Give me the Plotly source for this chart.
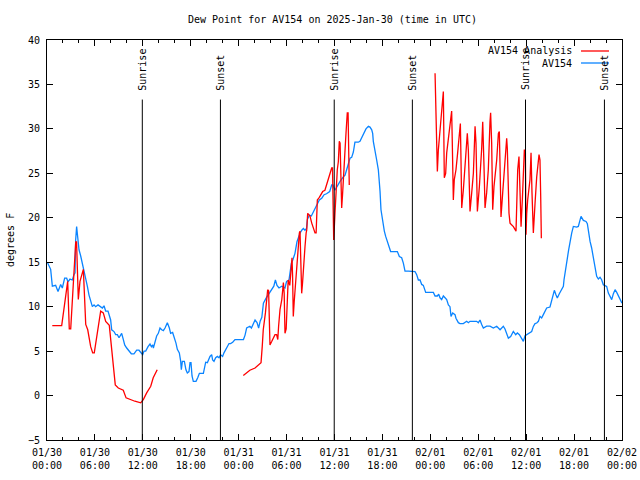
import pandas as pd
import plotly.graph_objects as go

BASE = pd.Timestamp("2025-01-30 00:00")

# --- AV154 observed dew point (hours since 01/30 00:00 UTC, degrees F) ---
obs_hours = [0.04, 0.46, 0.67, 1.08, 1.38, 1.71, 1.92, 2.21, 2.46, 2.63, 2.88, 3.17, 3.38, 3.51, 3.59, 3.71,
             3.80, 3.88, 4.01, 4.22, 4.43, 4.63, 4.84, 5.05, 5.26, 5.47, 5.68, 5.89, 6.09, 6.39, 6.64, 6.93,
             7.14, 7.35, 7.64, 7.76, 7.97, 8.10, 8.39, 8.60, 8.81, 9.02, 9.22, 9.35, 9.56, 9.73, 9.98, 10.27,
             10.56, 10.89, 11.23, 11.52, 11.73, 11.98, 12.15, 12.36, 12.65, 12.90, 13.07, 13.23, 13.32, 13.52,
             13.73, 13.94, 14.15, 14.36, 14.57, 14.78, 14.98, 15.07, 15.32, 15.48, 15.73, 15.90, 16.15, 16.32,
             16.57, 16.74, 16.82, 16.95, 17.20, 17.40, 17.57, 17.78, 17.91, 18.03, 18.16, 18.32, 18.66, 18.87,
             19.08, 19.58, 19.70, 19.87, 20.08, 20.20, 20.41, 20.62, 20.74, 20.91, 21.12, 21.33, 21.54, 21.74,
             21.99, 22.16, 22.41, 22.58, 22.79, 22.99, 23.25, 23.54, 24.60, 24.80, 25.00, 25.40, 25.60, 26.05,
             26.30, 26.50, 26.70, 26.90, 27.10, 27.40, 27.70, 28.10, 28.40, 28.60, 28.80, 29.05, 29.40, 29.80,
             30.00, 30.30, 30.40, 30.60, 30.80, 31.05, 31.30, 31.50, 31.70, 31.90, 32.10, 32.30, 32.50, 32.60,
             32.85, 33.10, 33.35, 33.50, 33.85, 34.10, 34.40, 34.70, 35.00, 35.40, 35.65, 35.80, 36.06, 36.30,
             36.50, 36.69, 37.11, 37.32, 37.52, 37.86, 37.94, 38.15, 38.36, 38.56, 38.98, 39.19, 39.40, 39.70,
             39.94, 40.24, 40.44, 40.66, 40.78, 40.86, 40.99, 41.16, 41.28, 41.49, 41.61, 41.70, 41.82, 41.95,
             42.12, 42.24, 42.41, 42.66, 42.87, 43.03, 43.37, 43.87, 44.12, 44.41, 44.62, 44.83, 45.25, 45.79,
             46.08, 46.29, 46.50, 46.71, 46.92, 47.12, 47.42, 47.96, 48.38, 48.59, 48.88, 49.05, 49.21, 49.42,
             49.63, 49.84, 50.05, 50.26, 50.46, 50.59, 50.80, 51.09, 51.21, 51.51, 51.72, 52.13, 52.55, 52.76,
             52.97, 53.39, 53.80, 54.01, 54.22, 54.43, 54.64, 55.05, 55.47, 55.89, 56.31, 56.73, 57.14, 57.35,
             57.56, 57.77, 58.06, 58.39, 58.69, 58.90, 59.15, 59.31, 59.65, 59.86, 60.27, 60.69, 60.90, 61.11,
             61.32, 61.53, 61.73, 61.94, 62.15, 62.36, 62.57, 62.98, 63.19, 63.40, 63.53, 63.73, 63.90, 64.15,
             64.45, 64.66, 64.74, 64.86, 64.99, 65.16, 65.32, 65.49, 65.70, 65.91, 66.32, 66.53, 66.74, 66.87,
             67.16, 67.49, 67.66, 67.79, 68.00, 68.20, 68.41, 68.62, 68.83, 69.04, 69.25, 69.45, 69.66, 69.87,
             70.08, 70.29, 70.50, 70.71, 70.92, 71.13, 71.34, 71.55, 71.76, 72.00]
obs_dewpt = [15.0, 14.2, 12.3, 12.4, 11.7, 12.5, 12.1, 13.2, 13.2, 12.8, 13.1, 13.0, 13.6, 13.8, 17.5, 19.0,
             18.2, 17.5, 16.4, 15.7, 14.9, 14.0, 13.2, 12.3, 11.3, 10.6, 10.0, 10.2, 10.0, 10.2, 10.0, 9.85,
             10.1, 9.5, 9.5, 9.1, 8.5, 7.4, 7.2, 6.85, 6.85, 6.5, 6.85, 7.0, 6.3, 5.7, 5.35, 5.0,
             4.7, 4.7, 5.1, 5.1, 4.8, 4.6, 5.0, 5.0, 5.5, 5.8, 5.5, 5.7, 5.35, 5.9,
             6.7, 7.0, 7.6, 7.4, 7.3, 7.6, 8.0, 8.2, 7.6, 7.0, 7.1, 6.7, 5.9, 5.2,
             4.8, 3.85, 2.9, 3.85, 3.85, 2.9, 2.55, 2.7, 3.7, 3.7, 2.2, 1.6, 1.6, 2.0,
             2.5, 2.5, 3.1, 3.75, 3.7, 4.0, 4.4, 4.6, 4.0, 3.85, 4.25, 4.4, 4.25, 4.6,
             4.4, 4.8, 5.2, 5.5, 5.85, 5.85, 6.0, 6.3, 6.3, 6.8, 7.6, 7.8, 7.6, 8.5,
             8.2, 7.6, 8.4, 8.8, 10.4, 10.9, 11.35, 11.9, 12.3, 13.0, 12.4, 12.1, 12.3, 12.1,
             12.85, 13.0, 13.8, 14.9, 15.3, 16.0, 17.3, 17.9, 18.3, 18.6, 18.8, 18.6, 18.8, 19.8,
             20.3, 20.2, 20.7, 20.9, 21.5, 22.0, 22.2, 22.6, 22.7, 22.95, 23.7, 23.7, 23.1, 23.5,
             23.7, 24.1, 24.6, 24.8, 25.4, 26.5, 26.7, 26.8, 27.4, 28.5, 28.5, 28.6, 29.0, 29.5,
             30.0, 30.3, 30.2, 29.9, 29.5, 28.6, 27.8, 27.3, 26.5, 25.4, 24.3, 23.0, 20.9, 20.1,
             19.4, 18.5, 17.9, 17.3, 16.8, 16.2, 16.2, 16.2, 15.65, 15.5, 14.9, 14.0, 14.0, 14.0,
             13.95, 13.6, 13.0, 13.0, 12.5, 12.4, 11.6, 11.6, 11.6, 11.2, 11.2, 11.4, 11.0, 10.8,
             11.2, 11.0, 10.8, 10.2, 10.0, 8.9, 9.3, 9.1, 8.7, 8.2, 8.1, 8.1, 8.35, 8.2,
             8.35, 8.35, 8.35, 8.2, 8.5, 8.0, 7.6, 7.8, 7.8, 7.6, 7.8, 7.4, 7.8, 7.49,
             7.04, 6.46, 6.65, 7.21, 6.85, 7.04, 6.85, 6.65, 6.10, 6.74, 6.96, 7.21, 7.78, 8.09,
             8.16, 8.35, 8.91, 8.73, 9.10, 9.48, 9.85, 9.96, 10.6, 11.16, 11.84, 11.35, 10.97, 11.46,
             11.91, 12.28, 13.03, 13.6, 14.53, 15.47, 16.4, 17.34, 18.28, 19.03, 18.95, 19.03, 19.7, 20.15,
             19.7, 19.59, 19.33, 18.46, 17.34, 16.6, 15.47, 14.53, 13.41, 13.11, 13.3, 13.03, 12.47, 12.36,
             12.28, 11.53, 11.09, 10.79, 11.46, 11.91, 11.61, 11.16, 10.79, 10.4]

# --- AV154 Analysis, three separate runs (hours, degrees F) ---
ana1_hours = [0.66, 1.84, 2.59, 2.79, 2.97, 3.30, 3.42, 3.60, 3.70, 3.92, 4.13, 4.55, 4.85, 5.10, 5.47,
              5.72, 5.92, 6.22, 6.51, 6.72, 7.05, 7.35, 7.80, 8.23, 8.55, 8.93, 9.55, 9.90, 10.40, 11.00,
              11.73, 12.06, 12.48, 12.99, 13.30, 13.80]
ana1_dewpt = [7.87, 7.87, 12.85, 7.5, 7.5, 12.3, 14.9, 17.3, 17.3, 10.8, 12.85, 14.2, 8.0, 7.4, 5.5,
              4.8, 4.8, 6.7, 8.5, 9.5, 9.3, 8.35, 7.9, 4.0, 1.2, 0.85, 0.6, -0.26, -0.45, -0.64,
              -0.82, -0.45, 0.3, 1.05, 2.0, 2.9]

ana2_hours = [24.58, 25.40, 26.05, 26.80, 26.95, 27.08, 27.35, 27.50, 27.63, 27.75, 27.84, 27.92, 28.15,
              28.55, 28.75, 28.90, 29.00, 29.18, 29.40, 29.60, 29.70, 29.80, 29.95, 30.10, 30.20, 30.40,
              30.55, 30.68, 30.75, 30.84, 30.95, 31.09, 31.27, 31.47, 31.60, 31.68, 31.80, 31.89, 32.00,
              32.18, 32.31, 32.45, 32.52, 32.64, 32.72, 32.93, 33.15, 33.35, 33.56, 33.70, 33.77, 33.85,
              34.10, 34.52, 34.80, 35.02, 35.22, 35.44, 35.65, 35.75, 35.85, 35.90, 36.06, 36.19, 36.35,
              36.48, 36.60, 36.70, 36.80, 36.90, 37.00, 37.10, 37.30, 37.44, 37.60, 37.70, 37.80, 37.85]
ana2_dewpt = [2.25, 2.85, 3.1, 3.7, 5.5, 7.4, 9.3, 10.8, 11.9, 11.8, 8.7, 5.7, 6.1,
              6.85, 6.85, 6.3, 7.8, 9.7, 10.8, 12.7, 11.5, 7.0, 7.5, 10.8, 13.0, 12.4,
              14.9, 15.5, 13.5, 8.9, 10.5, 12.3, 14.2, 16.2, 18.3, 18.5, 15.5, 11.5, 12.7,
              15.65, 16.8, 18.3, 18.6, 20.5, 20.4, 20.2, 19.4, 18.8, 18.3, 18.3, 20.3, 22.0,
              22.3, 22.95, 23.1, 23.7, 24.5, 25.0, 25.6, 25.6, 22.0, 17.5, 20.5, 23.5, 25.4,
              26.3, 28.6, 28.4, 24.5, 21.1, 22.5, 24.6, 27.3, 29.5, 31.8, 31.8, 27.0, 23.7]

ana3_hours = [48.59, 48.67, 48.79, 48.88, 49.00, 49.13, 49.33, 49.50, 49.63, 49.75, 49.92, 50.05, 50.26,
              50.46, 50.67, 50.75, 50.88, 51.00, 51.21, 51.42, 51.63, 51.76, 51.84, 51.93, 52.13, 52.34,
              52.55, 52.63, 52.76, 52.97, 53.18, 53.39, 53.60, 53.72, 53.89, 54.14, 54.43, 54.56, 54.72,
              54.85, 55.05, 55.26, 55.47, 55.55, 55.68, 55.81, 55.97, 56.31, 56.52, 56.64, 56.73, 56.85,
              57.06, 57.35, 57.56, 57.64, 57.77, 57.85, 57.98, 58.40, 58.73, 58.81, 58.94, 59.10, 59.23,
              59.36, 59.52, 59.65, 59.77, 59.90, 59.98, 60.07, 60.19, 60.48, 60.61, 60.73, 60.90, 61.11,
              61.32, 61.61, 61.73, 61.82, 61.90]
ana3_dewpt = [36.25, 33.45, 28.0, 25.2, 27.6, 29.1, 30.6, 33.4, 34.2, 24.5, 25.0, 27.3, 28.8,
              30.3, 32.0, 28.4, 22.0, 24.3, 25.4, 27.3, 29.9, 30.6, 26.5, 21.1, 23.1, 25.8,
              28.8, 29.5, 27.6, 20.7, 22.8, 25.0, 30.3, 28.4, 20.7, 23.5, 27.8, 30.8, 25.8,
              21.1, 22.8, 25.4, 30.8, 31.8, 28.4, 20.9, 23.5, 26.5, 29.5, 29.7, 25.8, 20.1,
              22.8, 25.8, 28.95, 27.8, 22.8, 20.5, 19.4, 19.0, 18.5, 21.6, 25.4, 26.9, 23.5,
              19.0, 22.0, 25.4, 27.6, 27.6, 18.1, 20.5, 22.0, 24.3, 27.3, 22.8, 18.3, 21.6,
              24.6, 27.1, 26.5, 22.4, 17.7]

# --- Sun events (UTC) ---
sun_labels = ["Sunrise", "Sunset", "Sunrise", "Sunset", "Sunrise", "Sunset"]
sun_times = ["2025-01-30 11:56", "2025-01-30 21:43", "2025-01-31 11:58",
             "2025-01-31 21:45", "2025-02-01 11:55", "2025-02-01 21:48"]

TITLE = "Dew Point for AV154 on 2025-Jan-30 (time in UTC)"
RED = "#ff0000"
BLUE = "#0a84ff"
FONT = "DejaVu Sans Mono"


def to_time(hours):
    return [BASE + pd.Timedelta(hours=h) for h in hours]


ana_x = to_time(ana1_hours) + [None] + to_time(ana2_hours) + [None] + to_time(ana3_hours)
ana_y = ana1_dewpt + [None] + ana2_dewpt + [None] + ana3_dewpt

fig = go.Figure()
fig.add_trace(go.Scatter(x=to_time(obs_hours), y=obs_dewpt, mode="lines", name="AV154",
                         line=dict(color=BLUE, width=1.3)))
fig.add_trace(go.Scatter(x=ana_x, y=ana_y, mode="lines", name="AV154 Analysis",
                         line=dict(color=RED, width=1.3), connectgaps=False))

# sunrise / sunset markers
for lab, t in zip(sun_labels, sun_times):
    fig.add_shape(type="line", xref="x", yref="y", x0=t, x1=t, y0=-5, y1=33.3,
                  line=dict(color="black", width=1))
    fig.add_annotation(x=t, y=34.1, xref="x", yref="y", text=lab, textangle=-90,
                       showarrow=False, xanchor="center", yanchor="bottom",
                       font=dict(family=FONT, size=10, color="black"))

# legend (gnuplot style: text then sample line)
leg_items = [("AV154 Analysis", RED, 0.9725), ("AV154", BLUE, 0.9425)]
for name, col, yy in leg_items:
    fig.add_annotation(x=0.9157, y=yy, xref="paper", yref="paper", text=name, showarrow=False,
                       xanchor="right", yanchor="middle",
                       font=dict(family=FONT, size=10, color="black"))
    fig.add_shape(type="line", xref="paper", yref="paper", x0=0.9287, x1=0.9774, y0=yy, y1=yy,
                  line=dict(color=col, width=1.3))

# title and y label
fig.add_annotation(x=0.4957, y=1, xref="paper", yref="paper", yshift=21, text=TITLE,
                   showarrow=False, xanchor="center", yanchor="middle",
                   font=dict(family=FONT, size=10, color="black"))
fig.add_annotation(x=-0.0643, y=0.5, xref="paper", yref="paper", text="degrees F", textangle=-90,
                   showarrow=False, xanchor="center", yanchor="middle",
                   font=dict(family=FONT, size=10, color="black"))

fig.update_layout(
    width=640, height=480,
    margin=dict(l=47, r=18, t=40, b=40, autoexpand=False),
    paper_bgcolor="white", plot_bgcolor="white",
    showlegend=False, hovermode=False,
    font=dict(family=FONT, size=10, color="black"),
)
fig.update_xaxes(
    type="date", range=["2025-01-30 00:00", "2025-02-02 00:00"], automargin=False,
    dtick=6 * 3600 * 1000, tick0="2025-01-30 00:00", tickformat="%m/%d<br>%H:%M",
    ticks="inside", ticklen=6, tickcolor="black", tickwidth=1,
    minor=dict(dtick=2 * 3600 * 1000, ticks="inside", ticklen=3, tickcolor="black"),
    showline=True, linecolor="black", linewidth=1, mirror="allticks",
    showgrid=False, zeroline=False, ticklabelstandoff=3,
    tickfont=dict(family=FONT, size=10, color="black"),
)
fig.update_yaxes(
    range=[-5, 40], dtick=5, tick0=0, automargin=False,
    ticks="inside", ticklen=6, tickcolor="black", tickwidth=1,
    showline=True, linecolor="black", linewidth=1, mirror="allticks",
    showgrid=False, zeroline=False, ticklabelstandoff=4,
    tickfont=dict(family=FONT, size=10, color="black"),
)

# remove the browser's default page margin so the 640x480 figure fills the window
fig.write_html("out.html", config={"displayModeBar": False, "staticPlot": True},
               post_script="document.body.style.margin='0';")
